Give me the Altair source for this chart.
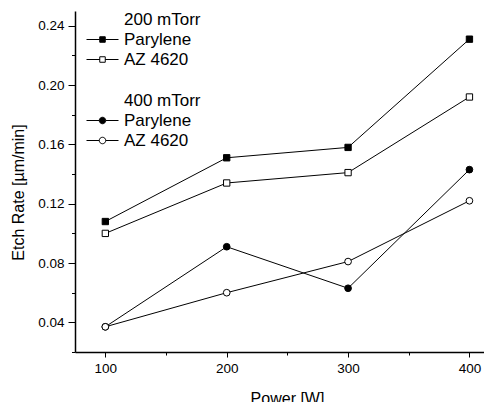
import altair as alt
import pandas as pd

power = [100, 200, 300, 400]
parylene_200 = [0.108, 0.151, 0.158, 0.231]
az4620_200 = [0.100, 0.134, 0.141, 0.192]
parylene_400 = [0.037, 0.091, 0.063, 0.143]
az4620_400 = [0.037, 0.060, 0.081, 0.122]
materials = ["Parylene", "AZ 4620"]
pressures = ["200 mTorr", "400 mTorr"]

x_ticks = [100, 150, 200, 250, 300, 350, 400]
y_ticks = [0.02, 0.04, 0.06, 0.08, 0.10, 0.12, 0.14, 0.16, 0.18, 0.20, 0.22, 0.24]

rows = []
for pres, pair in zip(pressures, [(parylene_200, az4620_200), (parylene_400, az4620_400)]):
    for mat, vals in zip(materials, pair):
        for p, v in zip(power, vals):
            rows.append({"power": p, "rate": v, "pressure": pres, "material": mat})
df = pd.DataFrame(rows)

FONT = "Liberation Sans"

x_axis = alt.Axis(
    values=x_ticks,
    labelExpr="datum.value % 100 == 0 ? datum.label : ''",
    tickSize={"condition": {"test": "datum.value % 100 == 0", "value": 5}, "value": 3},
    labelPadding=4,
    title="Power [W]",
    titleX=212, titleY=51, titleAlign="center", titleBaseline="alphabetic",
    grid=False,
)
y_axis = alt.Axis(
    values=y_ticks,
    labelExpr="round(datum.value*50) % 2 == 0 ? format(datum.value, '.2f') : ''",
    tickSize={"condition": {"test": "round(datum.value*50) % 2 == 0", "value": 7}, "value": 3.5},
    labelPadding=4,
    title="Etch Rate [µm/min]",
    titleX=-57, titleY=181, titleAlign="center", titleBaseline="middle", titleAngle=-90,
    grid=False,
)

X = alt.X("power:Q", scale=alt.Scale(domain=[75, 412], nice=False, zero=False), axis=x_axis)
Y = alt.Y("rate:Q", scale=alt.Scale(domain=[0.02, 0.25], nice=False, zero=False), axis=y_axis)

# legend glyphs: line with marker, in units of 5 px (symbolSize 100)
SQ = "M-3.2,0H-0.55M0.55,0H3.2M-0.55,-0.55H0.55V0.55H-0.55Z"
CI = "M-3.2,0H-0.65M0.65,0H3.2M0.65,0A0.65,0.65,0,1,1,-0.65,0A0.65,0.65,0,1,1,0.65,0Z"


def group(pres, shape, size, path, ly):
    base = alt.Chart(df).transform_filter(alt.datum.pressure == pres)
    line = base.mark_line(color="black", strokeWidth=1).encode(x=X, y=Y, detail="material:N")
    leg = alt.Legend(
        title=None, orient="none", legendX=19, legendY=ly, padding=0,
        symbolType=path, symbolSize=100, symbolStrokeWidth=1,
        labelFont=FONT, labelFontSize=17, labelColor="black", labelOffset=13,
        labelLimit=300, rowPadding=2,
    )
    dom = [pres] + materials
    pts = base.mark_point(shape=shape, size=size, filled=True, strokeWidth=1, opacity=1).encode(
        x=X, y=Y,
        fill=alt.Fill("material:N", scale=alt.Scale(domain=dom, range=["transparent", "black", "white"]), legend=leg),
        stroke=alt.Stroke("material:N", scale=alt.Scale(domain=dom, range=["transparent", "black", "black"]), legend=leg),
    )
    return alt.layer(line, pts)


chart = alt.layer(
    group("200 mTorr", "square", 40, SQ, 0),
    group("400 mTorr", "circle", 45, CI, 81),
).resolve_scale(fill="independent", stroke="independent").properties(
    width=409, height=341,
    padding={"left": 67, "top": 3, "right": 0, "bottom": 50},
    autosize=alt.AutoSizeParams(type="none"),
).configure_view(stroke=None).configure_axis(
    domainColor="black", domainWidth=1.5, tickColor="black", tickWidth=1,
    labelFont=FONT, labelFontSize=13.5, labelColor="black",
    titleFont=FONT, titleFontSize=16, titleFontWeight="normal", titleColor="black",
)

chart.save("out.html", embed_options={"renderer": "svg", "actions": False})
